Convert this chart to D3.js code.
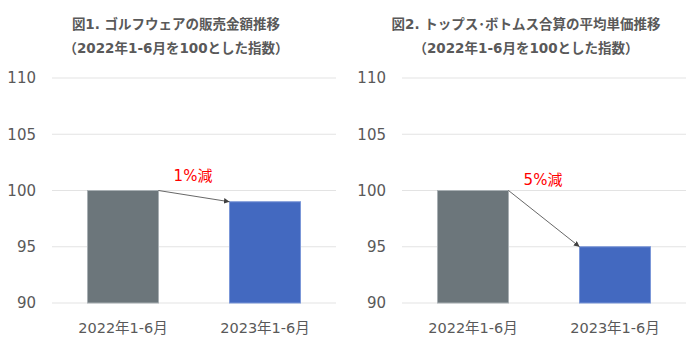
<!DOCTYPE html>
<html>
<head>
<meta charset="utf-8">
<script src="https://cdn.jsdelivr.net/npm/d3@7"></script>
<style>
  body { margin: 0; background: #fff; }
  svg { display: block; font-family: "DejaVu Sans", "Noto Sans CJK JP", sans-serif; }
</style>
</head>
<body>
<div id="chart"></div>
<script>
// data
const categories = ['2022年1-6月', '2023年1-6月']
const salesValues = [100, 99]
const priceValues = [100, 95]
const yTicks = [90, 95, 100, 105, 110]
const titles1 = ['図1. ゴルフウェアの販売金額推移', '（2022年1-6月を100とした指数）']
const titles2 = ['図2. トップス･ボトムス合算の平均単価推移', '（2022年1-6月を100とした指数）']
const notes = ['1%減', '5%減']

const width = 700
const height = 348
const svg = d3.select('#chart').append('svg')
    .attr('width', width)
    .attr('height', height)

const defs = svg.append('defs')
defs.append('marker')
    .attr('id', 'arrow')
    .attr('viewBox', '0 0 10 10')
    .attr('refX', 10)
    .attr('refY', 5)
    .attr('markerWidth', 7)
    .attr('markerHeight', 7)
    .attr('orient', 'auto')
    .append('path')
    .attr('d', 'M0,0 L10,5 L0,10 z')
    .attr('fill', '#404040')

const barColors = ['#6c767b', '#4369c0']
const barStroke = ['#a9b0b4', '#7b97d8']

function panel(x0, titles, values, note, noteDy) {
    const margin = { left: 52, right: 14, top: 78 }
    const g = svg.append('g').attr('transform', `translate(${x0},0)`)
    const w = 350 - margin.left - margin.right
    const band = d3.scaleBand()
        .domain(categories)
        .range([margin.left, margin.left + w])
        .paddingInner(0.5)
        .paddingOuter(0.25)
    const yScale = d3.scaleLinear()
        .domain([90, 110])
        .range([303, 78])

    // titles
    g.selectAll('text.title').data(titles).join('text')
        .attr('class', 'title')
        .attr('x', 176)
        .attr('y', (d, i) => 29 + i * 24)
        .attr('text-anchor', 'middle')
        .attr('font-size', 13.5)
        .attr('font-weight', 'bold')
        .attr('fill', '#595959')
        .text(d => d)

    // grid
    g.selectAll('line.grid').data(yTicks).join('line')
        .attr('class', 'grid')
        .attr('x1', margin.left)
        .attr('x2', margin.left + w)
        .attr('y1', d => yScale(d))
        .attr('y2', d => yScale(d))
        .attr('stroke', '#e3e3e3')
        .attr('stroke-width', 1)

    // y labels
    g.selectAll('text.ytick').data(yTicks).join('text')
        .attr('class', 'ytick')
        .attr('x', margin.left - 16)
        .attr('y', d => yScale(d))
        .attr('dy', '0.36em')
        .attr('text-anchor', 'end')
        .attr('font-size', 15)
        .attr('fill', '#595959')
        .text(d => d)

    // bars
    g.selectAll('rect.bar').data(values).join('rect')
        .attr('class', 'bar')
        .attr('x', (d, i) => band(categories[i]))
        .attr('width', band.bandwidth())
        .attr('y', d => yScale(d))
        .attr('height', d => yScale(90) - yScale(d))
        .attr('fill', (d, i) => barColors[i])
        .attr('stroke', (d, i) => barStroke[i])
        .attr('stroke-width', 1)

    // x labels
    g.selectAll('text.xtick').data(categories).join('text')
        .attr('class', 'xtick')
        .attr('x', d => band(d) + band.bandwidth() / 2)
        .attr('y', 333)
        .attr('text-anchor', 'middle')
        .attr('font-size', 14.5)
        .attr('fill', '#595959')
        .text(d => d)

    // arrow
    const xs = band(categories[0]) + band.bandwidth()
    const xe = band(categories[1])
    g.append('line')
        .attr('x1', xs)
        .attr('y1', yScale(values[0]))
        .attr('x2', xe)
        .attr('y2', yScale(values[1]))
        .attr('stroke', '#404040')
        .attr('stroke-width', 0.8)
        .attr('marker-end', 'url(#arrow)')

    g.append('text')
        .attr('x', (xs + xe) / 2 - 1)
        .attr('y', yScale(100) + noteDy)
        .attr('text-anchor', 'middle')
        .attr('font-size', 15)
        .attr('fill', '#ff0000')
        .text(note)
}

panel(0, titles1, salesValues, notes[0], -10)
panel(350, titles2, priceValues, notes[1], -6)
</script>
</body>
</html>
